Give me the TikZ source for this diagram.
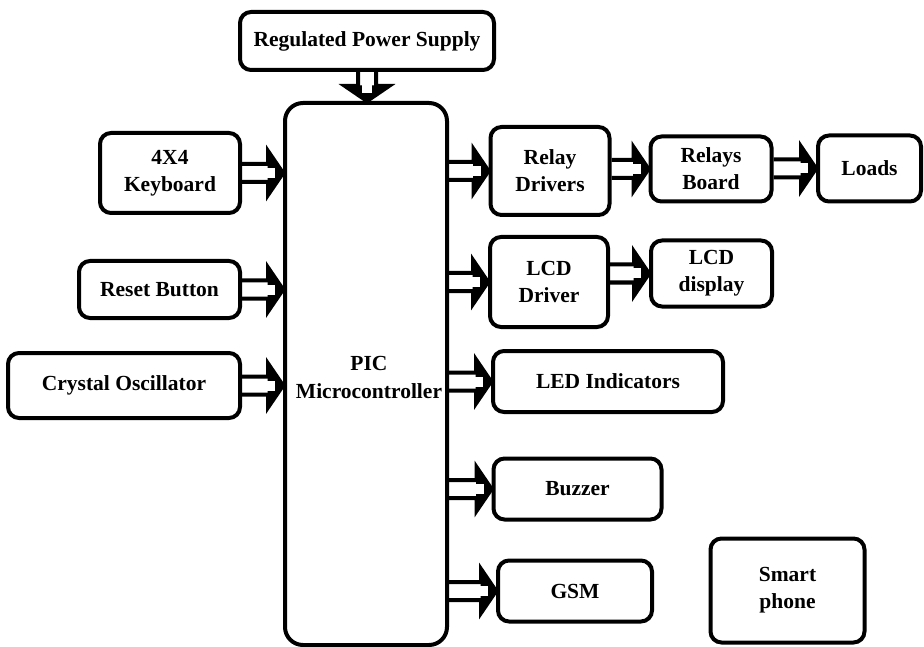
\documentclass[tikz,border=0pt]{standalone}
\usepackage{fontspec}
\setmainfont{Liberation Serif}
\usetikzlibrary{backgrounds,calc}
\tikzset{
  blk/.style={draw, line width=4pt, rounded corners=11pt, fill=white,
    align=center, inner sep=0pt, font=\bfseries\fontsize{21.5}{27}\selectfont},
  arrowline/.style={draw, line width=4pt, fill=white, line join=miter, miter limit=10},
  arrowhead/.style={fill=black, draw=black, line width=1pt, line join=miter},
  arrowgap/.style={fill=white}
}
\newcommand\blockarrow[2]{%
  \path let \p1=(#1), \p2=(#2) in
    \pgfextra{\pgfmathsetmacro\baang{atan2(\y2-\y1,\x2-\x1)}%
      \pgfmathsetmacro\balen{veclen(\x2-\x1,\y2-\y1)}%
      \global\let\baang\baang \global\let\balen\balen
      \xdef\bax{\x1}\xdef\bay{\y1}};
  \begin{scope}[shift={(\bax,\bay)}, rotate=\baang]
    \path[arrowline] (0pt,9pt) -- ({\balen pt-15pt},9pt) -- ({\balen pt-15pt},22pt)
      -- ({\balen pt},0pt) -- ({\balen pt-15pt},-22pt) -- ({\balen pt-15pt},-9pt) -- (0pt,-9pt);
    \path[arrowhead] ({\balen pt-15pt},22pt) -- ({\balen pt},0pt) -- ({\balen pt-15pt},-22pt) -- cycle;
    \path[arrowgap] ({\balen pt-17pt},5pt) rectangle ({\balen pt-8pt},-5pt);
  \end{scope}}
\begin{document}
\begin{tikzpicture}[x=1pt,y=-1pt]
\useasboundingbox (0,0) rectangle (924,647);
% nodes
\node[blk, minimum width=254pt, minimum height=58pt] (rps) at (367,41) {Regulated Power Supply};
\node[blk, rounded corners=18pt, minimum width=162pt, minimum height=542pt] (pic) at (366,374) {};
\node[font=\bfseries\fontsize{21.5}{28}\selectfont, align=center] (pictxt) at (369,377) {PIC\\Microcontroller};
\node[blk, minimum width=140pt, minimum height=80pt] (kb) at (170,173) {4X4\\Keyboard};
\node[blk, minimum width=161pt, minimum height=57pt] (reset) at (159.5,289.5) {Reset Button};
\node[blk, minimum width=232pt, minimum height=65pt] (xtal) at (124,385.5) {Crystal Oscillator};
\node[blk, minimum width=119pt, minimum height=88pt] (rd) at (550,171) {Relay\\Drivers};
\node[blk, minimum width=121pt, minimum height=65pt] (rb) at (711,169) {Relays\\Board};
\node[blk, minimum width=103pt, minimum height=66pt] (loads) at (869.5,168.5) {Loads};
\node[blk, minimum width=118pt, minimum height=90pt] (lcdd) at (549,282) {LCD\\Driver};
\node[blk, minimum width=121pt, minimum height=66pt] (lcdp) at (711.5,273.5) {LCD\\display};
\node[blk, minimum width=230pt, minimum height=61pt] (led) at (608,381.5) {LED Indicators};
\node[blk, minimum width=168pt, minimum height=61pt] (buz) at (577.5,489) {Buzzer};
\node[blk, minimum width=154pt, minimum height=61pt] (gsm) at (575,591) {GSM};
\node[blk, minimum width=154pt, minimum height=104pt] (sp) at (787.5,590.5) {Smart\\phone};
% arrows
\begin{scope}[on background layer]
\blockarrow{rps.south}{rps.south |- pic.north}
\blockarrow{kb.east}{pic.west |- kb.east}
\blockarrow{reset.east}{pic.west |- reset.east}
\blockarrow{xtal.east}{pic.west |- xtal.east}
\blockarrow{pic.east |- rd.west}{rd.west}
\blockarrow{rd.east |- rb.west}{rb.west}
\blockarrow{rb.east |- loads.west}{loads.west}
\blockarrow{pic.east |- lcdd.west}{lcdd.west}
\blockarrow{lcdd.east |- lcdp.west}{lcdp.west}
\blockarrow{pic.east |- led.west}{led.west}
\blockarrow{pic.east |- buz.west}{buz.west}
\blockarrow{pic.east |- gsm.west}{gsm.west}
\end{scope}
\end{tikzpicture}
\end{document}
